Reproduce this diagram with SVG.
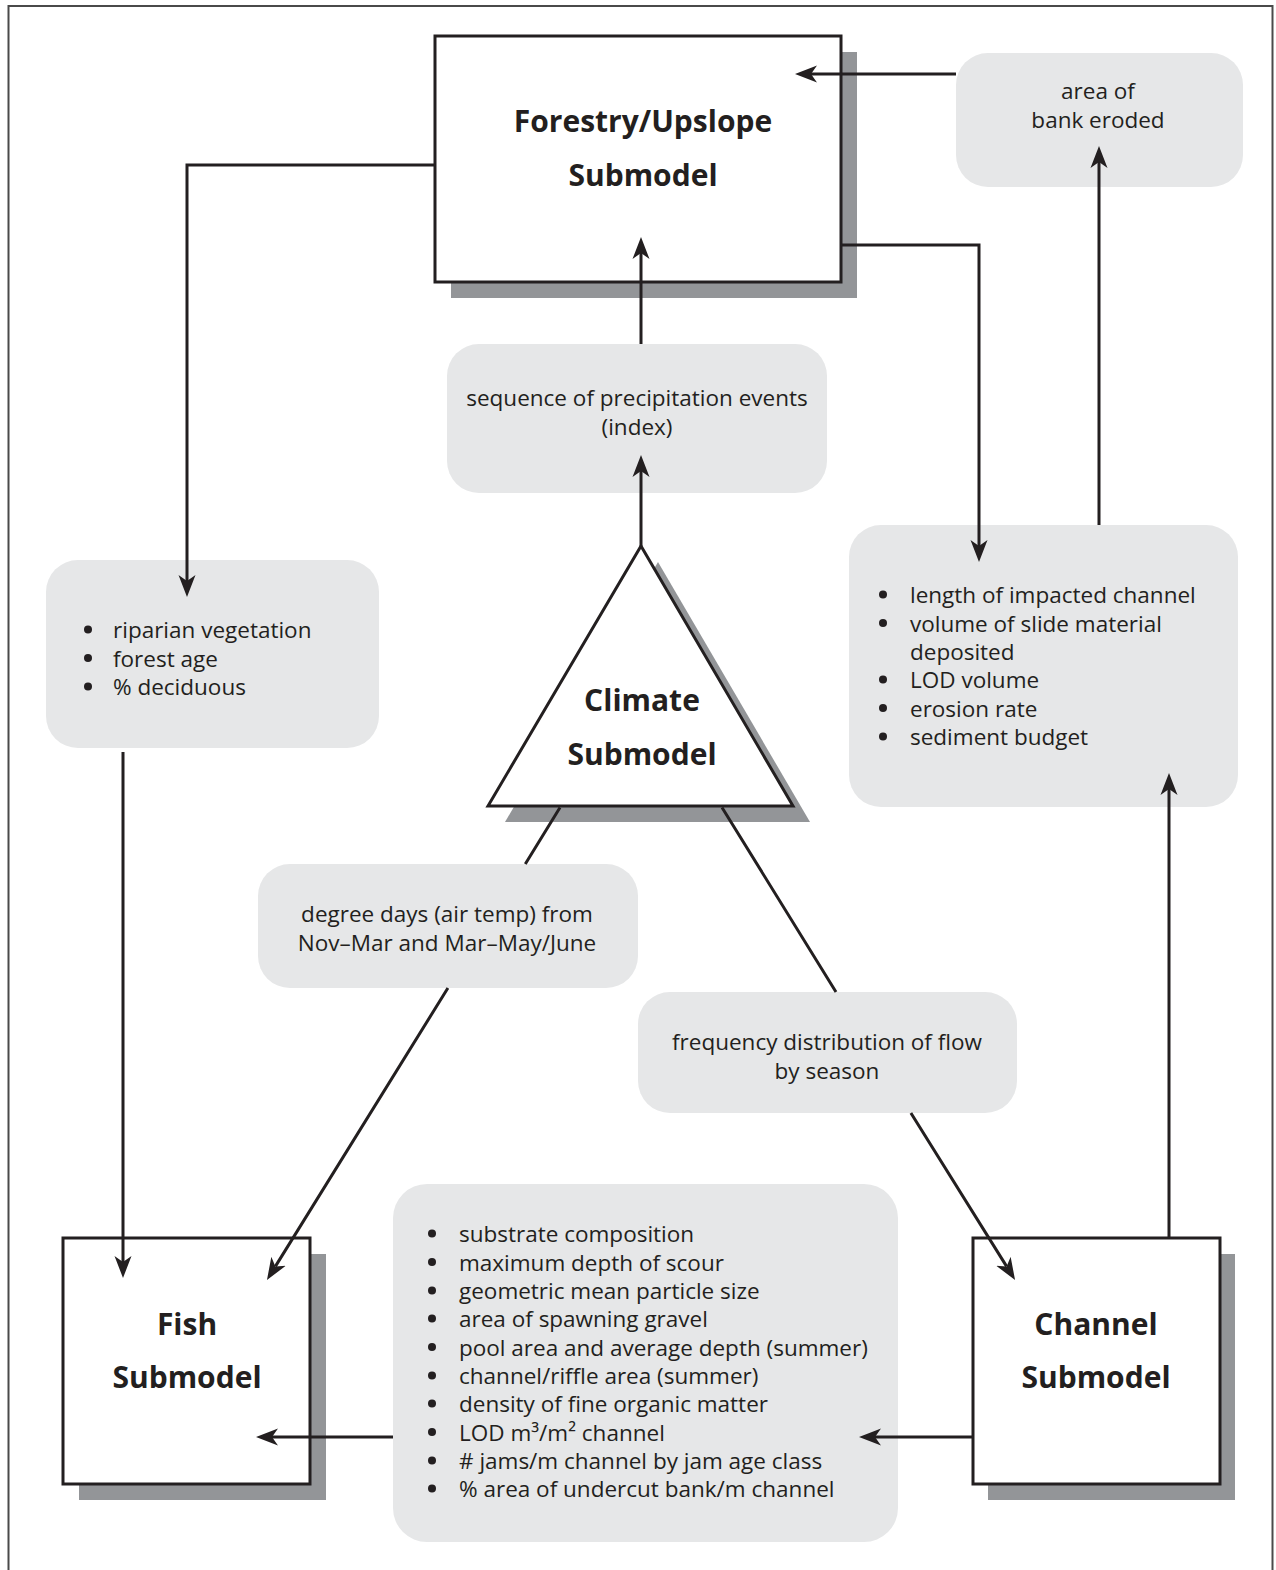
<svg xmlns="http://www.w3.org/2000/svg" width="1276" height="1570" viewBox="0 0 1276 1570">
<style>
.frame{fill:none;stroke:#4a4a4a;stroke-width:2}
.shadow{fill:#939598}
.box{fill:#ffffff;stroke:#231f20;stroke-width:3}
.lbl{fill:#e6e7e8}
.title{font-family:"Open Sans",Lato,"Noto Sans",sans-serif;font-weight:bold;font-size:30px;fill:#231f20;text-anchor:middle}
.t{font-family:"Open Sans",Lato,"Noto Sans",sans-serif;font-size:22.5px;fill:#231f20}
.c{text-anchor:middle}
.dot{fill:#231f20}
.con{fill:none;stroke:#231f20;stroke-width:3}
</style>
<defs>
<marker id="arr" viewBox="0 0 24 18" markerWidth="24" markerHeight="18" refX="6" refY="9" orient="auto" markerUnits="userSpaceOnUse">
<path d="M0,0.5 L22,9 L0,17.5 L6,9 Z" fill="#231f20"/>
</marker>
</defs>
<rect class="frame" x="8.5" y="6" width="1264" height="1590"/>

<g id="forestry">
<rect class="shadow" x="451" y="52" width="406" height="246"/>
<rect class="box" x="435" y="36" width="406" height="246"/>
<text class="title" x="643" y="132">Forestry/Upslope</text>
<text class="title" x="643" y="186">Submodel</text>
</g>

<g id="bank-eroded">
<rect class="lbl" x="956" y="53" width="287" height="134" rx="32"/>
<text class="t c" x="1098" y="99">area of</text>
<text class="t c" x="1098" y="128">bank eroded</text>
</g>

<g id="precip">
<rect class="lbl" x="447" y="344" width="380" height="149" rx="32"/>
<text class="t c" x="637" y="406" font-size="21">sequence of precipitation events</text>
<text class="t c" x="637" y="435" font-size="21">(index)</text>
</g>

<g id="riparian">
<rect class="lbl" x="46" y="560" width="333" height="188" rx="32"/>
<circle class="dot" cx="88" cy="629.5" r="4"/>
<circle class="dot" cx="88" cy="658" r="4"/>
<circle class="dot" cx="88" cy="686.5" r="4"/>
<text class="t" x="113" y="638">riparian vegetation</text>
<text class="t" x="113" y="666.5">forest age</text>
<text class="t" x="113" y="695">% deciduous</text>
</g>

<g id="channel-effects">
<rect class="lbl" x="849" y="525" width="389" height="282" rx="32"/>
<circle class="dot" cx="883" cy="594.5" r="4"/>
<circle class="dot" cx="883" cy="623" r="4"/>
<circle class="dot" cx="883" cy="679.5" r="4"/>
<circle class="dot" cx="883" cy="708" r="4"/>
<circle class="dot" cx="883" cy="736.5" r="4"/>
<text class="t" x="910" y="603">length of impacted channel</text>
<text class="t" x="910" y="631.5">volume of slide material</text>
<text class="t" x="910" y="660">deposited</text>
<text class="t" x="910" y="688">LOD volume</text>
<text class="t" x="910" y="716.5">erosion rate</text>
<text class="t" x="910" y="745">sediment budget</text>
</g>

<g id="climate">
<polygon class="shadow" points="658,562 810,822 505,822"/>
<polygon class="box" points="641,546 793,806 488,806" stroke-linejoin="miter"/>
<text class="title" x="642" y="711">Climate</text>
<text class="title" x="642" y="765">Submodel</text>
</g>

<g id="degree-days">
<rect class="lbl" x="258" y="864" width="380" height="124" rx="32"/>
<text class="t c" x="447" y="922">degree days (air temp) from</text>
<text class="t c" x="447" y="951">Nov–Mar and Mar–May/June</text>
</g>

<g id="flow">
<rect class="lbl" x="638" y="992" width="379" height="121" rx="32"/>
<text class="t c" x="827" y="1050" font-size="22">frequency distribution of flow</text>
<text class="t c" x="827" y="1079" font-size="22">by season</text>
</g>

<g id="fish">
<rect class="shadow" x="79" y="1254" width="247" height="246"/>
<rect class="box" x="63" y="1238" width="247" height="246"/>
<text class="title" x="187" y="1335">Fish</text>
<text class="title" x="187" y="1388">Submodel</text>
</g>

<g id="habitat">
<rect class="lbl" x="393" y="1184" width="505" height="358" rx="34"/>
<circle class="dot" cx="432" cy="1233.5" r="4"/>
<circle class="dot" cx="432" cy="1262" r="4"/>
<circle class="dot" cx="432" cy="1290.5" r="4"/>
<circle class="dot" cx="432" cy="1318.5" r="4"/>
<circle class="dot" cx="432" cy="1347" r="4"/>
<circle class="dot" cx="432" cy="1375.5" r="4"/>
<circle class="dot" cx="432" cy="1403.5" r="4"/>
<circle class="dot" cx="432" cy="1432" r="4"/>
<circle class="dot" cx="432" cy="1460.5" r="4"/>
<circle class="dot" cx="432" cy="1488.5" r="4"/>
<text class="t" x="459" y="1242">substrate composition</text>
<text class="t" x="459" y="1270.5">maximum depth of scour</text>
<text class="t" x="459" y="1299">geometric mean particle size</text>
<text class="t" x="459" y="1327">area of spawning gravel</text>
<text class="t" x="459" y="1355.5">pool area and average depth (summer)</text>
<text class="t" x="459" y="1384">channel/riffle area (summer)</text>
<text class="t" x="459" y="1412">density of fine organic matter</text>
<text class="t" x="459" y="1440.5">LOD m³/m² channel</text>
<text class="t" x="459" y="1469"># jams/m channel by jam age class</text>
<text class="t" x="459" y="1497">% area of undercut bank/m channel</text>
</g>

<g id="channel">
<rect class="shadow" x="988" y="1254" width="247" height="246"/>
<rect class="box" x="973" y="1238" width="247" height="246"/>
<text class="title" x="1096" y="1335">Channel</text>
<text class="title" x="1096" y="1388">Submodel</text>
</g>

<g id="connectors">
<path class="con" d="M956,74 H811" marker-end="url(#arr)"/>
<path class="con" d="M435,165 H187 V581" marker-end="url(#arr)"/>
<path class="con" d="M641,344 V253" marker-end="url(#arr)"/>
<path class="con" d="M841,245 H979 V546" marker-end="url(#arr)"/>
<path class="con" d="M1099,525 V162" marker-end="url(#arr)"/>
<path class="con" d="M641,546 V471" marker-end="url(#arr)"/>
<path class="con" d="M123,752 V1262" marker-end="url(#arr)"/>
<path class="con" d="M560,807.5 L525.3,864 M447.9,988 L275.4,1266.4" marker-end="url(#arr)"/>
<path class="con" d="M722,807.5 L836,992 M910.9,1113 L1006.6,1266.4" marker-end="url(#arr)"/>
<path class="con" d="M1169,1238 V789" marker-end="url(#arr)"/>
<path class="con" d="M973,1437 H875" marker-end="url(#arr)"/>
<path class="con" d="M393,1437 H272" marker-end="url(#arr)"/>
</g>
</svg>
